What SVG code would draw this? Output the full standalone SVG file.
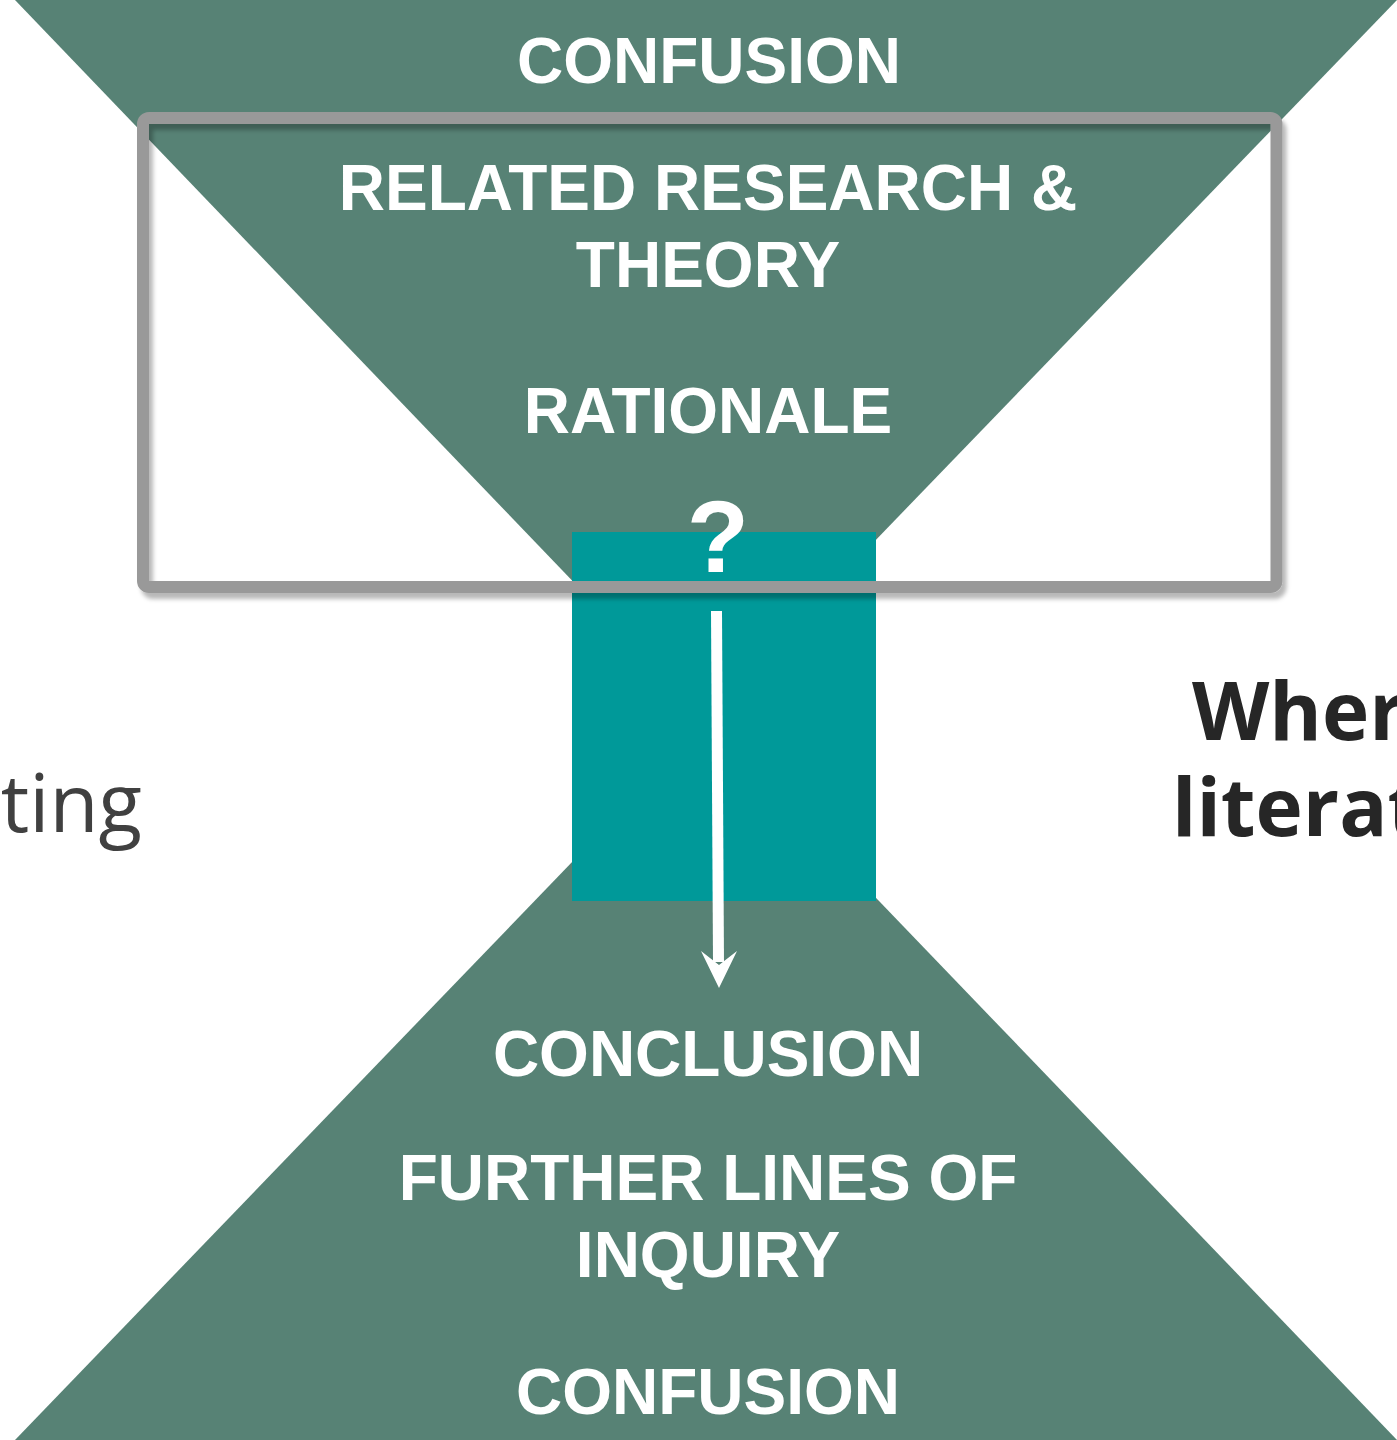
<svg xmlns="http://www.w3.org/2000/svg" width="1397" height="1440" viewBox="0 0 1397 1440">
  <defs>
    <style>
      .funnel { fill: #578275; }
      .lbl { font-family: "Liberation Sans", Arial, sans-serif; font-weight: bold; font-size: 64px; fill: #ffffff; text-anchor: middle; }
      .q { font-size: 102px; }
      .side { font-family: "Open Sans", "Liberation Sans", sans-serif; font-size: 80px; }
    </style>
    <filter id="sh" x="-5%" y="-5%" width="110%" height="115%">
      <feDropShadow dx="4" dy="6" stdDeviation="2" flood-color="#000000" flood-opacity="0.28"/>
    </filter>
  </defs>

  <rect width="1397" height="1440" fill="#ffffff"/>

  <g id="side-left">
    <text class="side" x="142" y="832" text-anchor="end" fill="#404040">ting</text>
  </g>
  <g id="side-right">
    <text class="side" x="1192" y="740" font-weight="bold" fill="#262626">Wher</text>
    <text class="side" x="1172" y="836" font-weight="bold" fill="#262626">literat</text>
  </g>

  <g id="top-funnel">
    <polygon class="funnel" points="15,0 1397,0 704,718"/>
  </g>
  <g id="bottom-funnel">
    <polygon class="funnel" points="707,722 1397,1440 15,1440"/>
  </g>
  <g id="core">
    <rect x="572" y="532" width="304" height="369" fill="#009999"/>
  </g>

  <g id="focus-box">
    <rect x="143" y="118" width="1133.5" height="469" rx="6" fill="none" stroke="#999999" stroke-width="12" filter="url(#sh)"/>
  </g>

  <g id="top-labels">
    <text class="lbl" x="709" y="83">CONFUSION</text>
    <text class="lbl" x="708" y="210">RELATED RESEARCH &amp;</text>
    <text class="lbl" x="708" y="287">THEORY</text>
    <text class="lbl" x="708" y="433">RATIONALE</text>
  </g>
  <g id="question">
    <text class="lbl q" x="718" y="572">?</text>
  </g>
  <g id="bottom-labels">
    <text class="lbl" x="708" y="1076">CONCLUSION</text>
    <text class="lbl" x="708" y="1200">FURTHER LINES OF</text>
    <text class="lbl" x="708" y="1277">INQUIRY</text>
    <text class="lbl" x="708" y="1414">CONFUSION</text>
  </g>

  <g id="connectors">
    <line x1="716.5" y1="611" x2="718.5" y2="962" stroke="#ffffff" stroke-width="11"/>
    <polygon points="701,951 719,988 737,951 719,965" fill="#ffffff"/>
  </g>
</svg>
